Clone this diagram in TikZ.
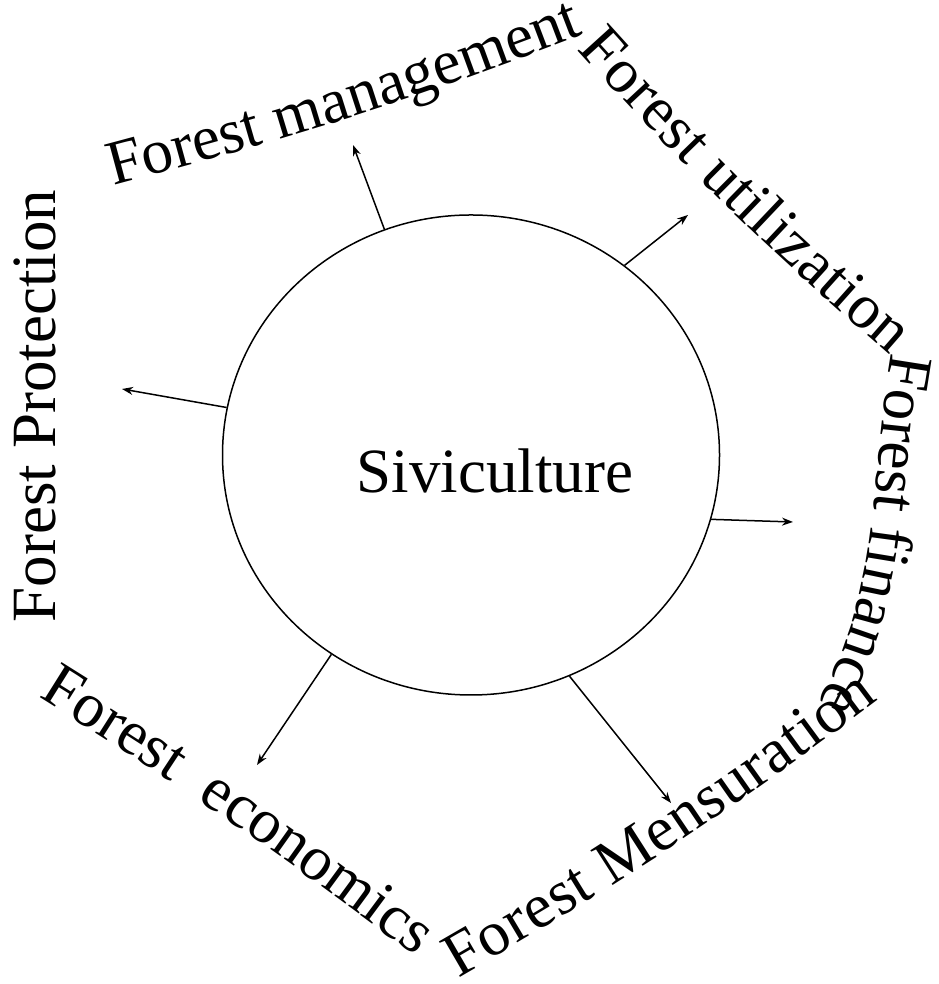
\documentclass[tikz,border=0pt]{standalone}
\usepackage{fontspec}
\setmainfont{Liberation Serif}
\usetikzlibrary{shapes.geometric, arrows.meta, decorations.text}
\newcommand{\lblfont}{\fontsize{63}{72}\selectfont}

\begin{document}
\begin{tikzpicture}[x=1pt, y=1pt, >={Stealth[length=11pt, width=8pt]}, line width=1.5pt,
    arc_label/.style={decorate, decoration={text along path, text align={fit to path}, text={#1}}}]
    \useasboundingbox (0,0) rectangle (938,984);

    % Siviculture
    \node (silv) [draw, ellipse, inner sep=0pt, minimum width=497pt, minimum height=480pt] at (471,529) {};
    \node (silv_text) [anchor=base, font=\lblfont] at (495,491) {Siviculture};

    % tips of the arrows
    \coordinate (mgmt_tip) at (353,839);
    \coordinate (util_tip) at (688,769);
    \coordinate (fin_tip) at (793,462);
    \coordinate (mens_tip) at (671,181);
    \coordinate (econ_tip) at (257,219);
    \coordinate (prot_tip) at (122,595);

    % arrows
    \draw[->] (silv.111.6) -- (mgmt_tip);
    \draw[->] (silv.51.6) -- (util_tip);
    \draw[->] (silv.-15.5) -- (fin_tip);
    \draw[->] (silv.-66) -- (mens_tip);
    \draw[->] (silv.235.5) -- (econ_tip);
    \draw[->] (silv.169) -- (prot_tip);

    % labels round the circle
    \coordinate (mgmt_a) at (113,798);
    \coordinate (mgmt_b) at (577,947);
    \coordinate (util_a) at (577,935);
    \coordinate (util_b) at (890,629);
    \coordinate (fin_a) at (892,631);
    \coordinate (fin_b) at (818,281);
    \coordinate (mens_a) at (458,6);
    \coordinate (mens_b) at (878,284);
    \coordinate (econ_a) at (38,287);
    \coordinate (econ_b) at (415,28);

    \path[arc_label={|\lblfont|Forest management}] (mgmt_a) to[out=15, in=201] (mgmt_b);
    \path[arc_label={|\lblfont|Forest utilization}] (util_a) to[out=-48, in=139] (util_b);
    \path[arc_label={|\lblfont|Forest finance}] (fin_a) to[out=-100, in=62] (fin_b);
    \path[arc_label={|\lblfont|Forest Mensuration}] (mens_a) to[out=30, in=217] (mens_b);
    \path[arc_label={|\lblfont|Forest{\ }{\ }economics}] (econ_a) to[out=-32, in=143] (econ_b);
    \node (prot) [anchor=base, rotate=90, font=\lblfont] at (55,578) {Forest Protection};
\end{tikzpicture}
\end{document}
